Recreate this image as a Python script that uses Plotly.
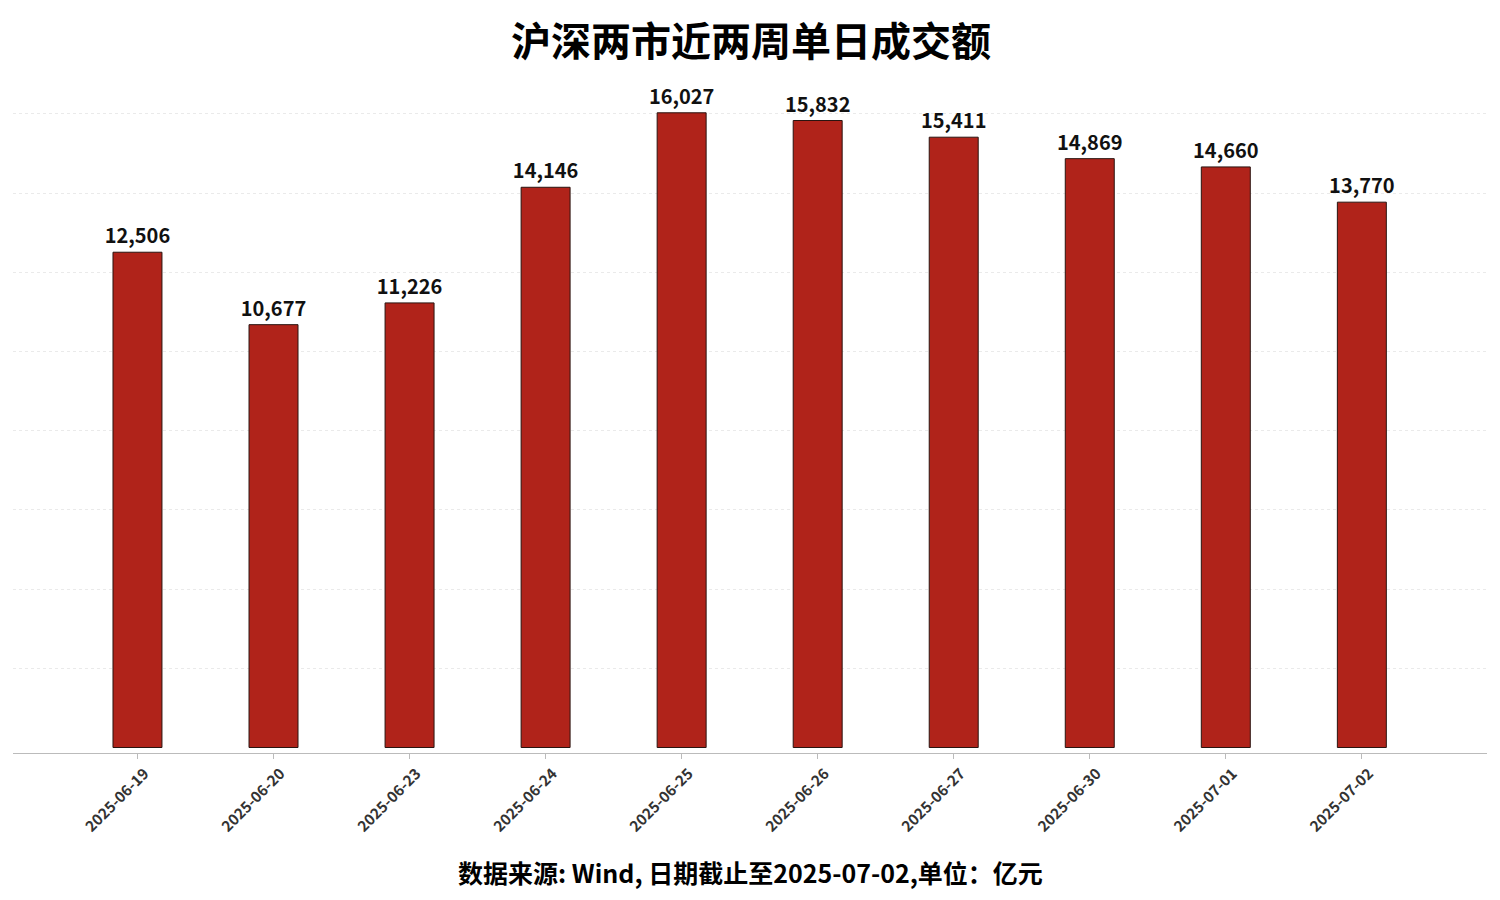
import plotly.graph_objects as go

dates = ["2025-06-19", "2025-06-20", "2025-06-23", "2025-06-24", "2025-06-25",
         "2025-06-26", "2025-06-27", "2025-06-30", "2025-07-01", "2025-07-02"]
turnover = [12506, 10677, 11226, 14146, 16027, 15832, 15411, 14869, 14660, 13770]
grid_values = [2000, 4000, 6000, 8000, 10000, 12000, 14000, 16000]

title_text = "沪深两市近两周单日成交额"
footer_text = "数据来源: Wind, 日期截止至2025-07-02,单位：亿元"

FONT = "Noto Sans CJK SC"

fig = go.Figure()
fig.add_trace(go.Bar(
    x=dates,
    y=turnover,
    width=0.36,
    marker=dict(color="#B0231A", line=dict(color="#2a1410", width=1)),
    texttemplate="<b>%{y:,}</b>",
    textposition="outside",
    constraintext="none",
    textfont=dict(family=FONT, size=20, color="#111111"),
    cliponaxis=False,
    hoverinfo="x+y",
))

fig.update_layout(
    width=1500, height=900,
    paper_bgcolor="white", plot_bgcolor="white",
    margin=dict(l=5, r=21, t=72, b=155),
    showlegend=False,
    bargap=0.5,
    title=dict(text="<b>" + title_text + "</b>", x=(751 - 8) / 1500, xanchor="center",
               y=1 - 34 / 900, yref="container", yanchor="middle",
               font=dict(family=FONT, size=40, color="#000000")),
    font=dict(family=FONT),
    annotations=[dict(
        text="<b>" + footer_text + "</b>", xref="paper", yref="paper",
        x=(750 - 13) / 1474, y=(753 - 872) / 673, xanchor="center", yanchor="middle",
        showarrow=False, font=dict(family=FONT, size=25, color="#000000"))],
)

fig.update_xaxes(
    type="category",
    range=[-0.915, 9.92],
    showline=True, linecolor="#bbbbbb", linewidth=1,
    ticks="outside", ticklen=5, tickcolor="#bbbbbb",
    tickangle=-45,
    ticklabelshift=7,
    tickfont=dict(family=FONT, size=15, color="#333333", weight=600),
    showgrid=False,
)
fig.update_yaxes(
    range=[-139, 16855],
    tickmode="array", tickvals=grid_values,
    showticklabels=False,
    showgrid=True, gridcolor="#eaeaea", griddash="dot", gridwidth=1,
    zeroline=False,
    showline=False,
)

fig.write_html("out.html")
